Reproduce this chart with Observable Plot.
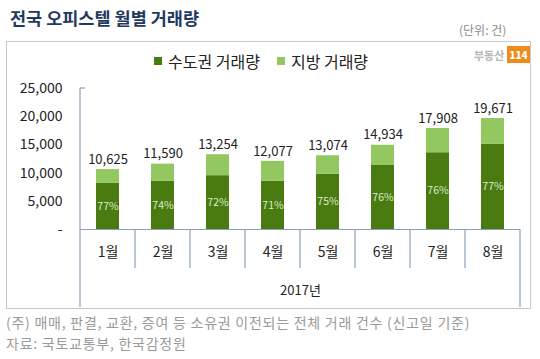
<!DOCTYPE html>
<html><head><meta charset="utf-8">
<script src="https://cdn.jsdelivr.net/npm/d3@7"></script>
<script src="https://cdn.jsdelivr.net/npm/@observablehq/plot@0.6"></script>
<style>
body{margin:0;width:540px;height:359px;position:relative;background:#fff;font-family:"Noto Sans CJK KR","Noto Sans",sans-serif;overflow:hidden}
.abs{position:absolute;white-space:nowrap}
#title{left:10px;top:5px;font-size:17.5px;font-weight:bold;color:#1f3a5f}
#unit{left:459px;top:21px;font-size:12px;color:#8a8a8a}
#box{left:6px;top:41px;width:525px;height:268px;border:1px solid #c9c9c9;box-sizing:border-box}
#legend{left:154px;top:49px;font-size:16px;color:#222;display:flex;align-items:center}
#legend span.sw{display:inline-block;width:8px;height:8px;margin-right:6px}
#logo{left:474px;top:46px;display:flex;align-items:center;font-size:11px;font-weight:bold;color:#b5b5b5}
#logo b{background:#f08a1c;color:#fff;font-size:10px;padding:1px 2px;margin-left:3px}
#chart{left:0;top:72px}
.note{left:6px;font-size:14px;letter-spacing:0.75px;color:#9a9a9a}
</style></head>
<body>
<div id="box" class="abs"></div>
<div id="title" class="abs">전국 오피스텔 월별 거래량</div>
<div id="unit" class="abs">(단위: 건)</div>
<div id="legend" class="abs"></div>
<div id="logo" class="abs">부동산<b>114</b></div>
<div id="chart" class="abs"></div>
<div class="abs note" style="top:312px">(주) 매매, 판결, 교환, 증여 등 소유권 이전되는 전체 거래 건수 (신고일 기준)</div>
<div class="abs note" style="top:333px">자료: 국토교통부, 한국감정원</div>
<script>
const months = ["1월","2월","3월","4월","5월","6월","7월","8월"];
const totals = [10625, 11590, 13254, 12077, 13074, 14934, 17908, 19671];
const capital = [8181, 8577, 9543, 8575, 9806, 11350, 13610, 15147];
const local = [2444, 3013, 3711, 3502, 3268, 3584, 4298, 4524];
const shares = [77, 74, 72, 71, 75, 76, 76, 77];
const seriesNames = ["수도권 거래량", "지방 거래량"];
const seriesColors = ["#4a7b10", "#93c760"];
const yTicks = [0, 5000, 10000, 15000, 20000, 25000];
const yearLabel = "2017년";

const rows = [];
months.forEach((m, i) => {
  rows.push({month: m, series: seriesNames[0], value: capital[i]});
  rows.push({month: m, series: seriesNames[1], value: local[i]});
});
const pctRows = months.map((m, i) => ({month: m, mid: capital[i] / 2, label: shares[i] + "%"}));
const totRows = months.map((m, i) => ({month: m, total: totals[i]}));
const fmt = d => d === 0 ? "-" : d3.format(",")(d);

const legendEl = document.getElementById("legend");
seriesNames.forEach((s, i) => {
  const e = document.createElement("span");
  e.style.marginRight = i === 0 ? "17px" : "0";
  e.style.display = "flex"; e.style.alignItems = "center";
  e.innerHTML = `<span class="sw" style="background:${seriesColors[i]}"></span>${s}`;
  legendEl.appendChild(e);
});

const chart = Plot.plot({
  width: 540, height: 240,
  marginLeft: 80, marginRight: 20, marginTop: 16, marginBottom: 83,
  style: {background: "transparent", fontFamily: "'Noto Sans CJK KR', sans-serif", color: "#222"},
  x: {domain: months, paddingInner: 0.58, paddingOuter: 0.29},
  y: {domain: [0, 25000]},
  color: {domain: seriesNames, range: seriesColors},
  marks: [
    Plot.axisY({ticks: yTicks, tickSize: 0, tickPadding: 18, tickFormat: fmt, fontSize: 14, label: null, fill: "#222"}),
    Plot.axisX({tickSize: 0, tickPadding: 18, fontSize: 14, label: null, fill: "#222"}),
    Plot.barY(rows, {x: "month", y: "value", fill: "series"}),
    Plot.text(pctRows, {x: "month", y: "mid", text: "label", fill: "#dcebcc", fontSize: 10.5}),
    Plot.text(totRows, {x: "month", y: "total", text: d => d3.format(",")(d.total), dy: -10, fontSize: 13, fill: "#222"}),
    Plot.ruleY([0], {stroke: "#8aa0ba", strokeWidth: 1.2}),
    Plot.text([yearLabel], {frameAnchor: "bottom", dy: 65, fontSize: 13, fill: "#222"})
  ]
});
document.getElementById("chart").appendChild(chart);

// decorative category dividers and axis lines
const xs = chart.scale("x"), ys = chart.scale("y");
const step = xs.step, bw = xs.bandwidth;
const yBase = ys.apply(0), yTop = ys.apply(25000);
const g = d3.select(chart).append("g").attr("stroke", "#8aa0ba").attr("stroke-width", 1.2);
const edges = months.map(m => xs.apply(m) - (step - bw) / 2);
edges.push(edges[edges.length - 1] + step);
edges.forEach((e, i) => {
  const outer = i === 0 || i === edges.length - 1;
  g.append("line").attr("x1", e).attr("x2", e)
    .attr("y1", i === 0 ? yTop : yBase).attr("y2", yBase + (outer ? 78 : 39));
});
g.append("line").attr("x1", edges[0]).attr("x2", edges[0] + 5).attr("y1", yTop).attr("y2", yTop);
</script>
</body></html>
